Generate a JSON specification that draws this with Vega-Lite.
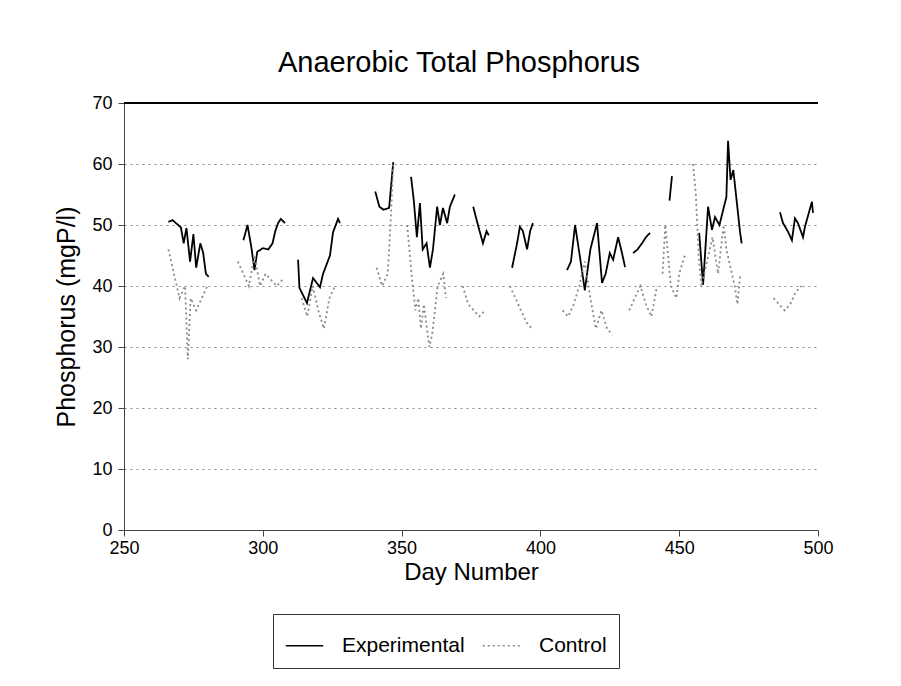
{
  "$schema": "https://vega.github.io/schema/vega-lite/v6.json",
  "width": 694,
  "height": 427,
  "autosize": {"type": "none"},
  "padding": {"left": 124, "top": 103, "right": 83, "bottom": 156},
  "background": "white",
  "config": {"view": {"stroke": null}, "font": "Liberation Sans"},
  "title": {"text": "Anaerobic Total Phosphorus", "fontSize": 29, "fontWeight": "normal", "font": "Liberation Sans", "color": "black", "offset": 16, "anchor": "middle", "dx": -12},
  "layer": [
    {
      "data": {"values": [{"d": 1}]},
      "mark": {"type": "rule", "color": "black", "strokeWidth": 2},
      "encoding": {"y": {"datum": 70}}
    },
    {
      "data": {"values": [
        {"day": 266, "value": 50.5, "series": "Experimental", "seg": "e1"},
        {"day": 267.5, "value": 50.8, "series": "Experimental", "seg": "e1"},
        {"day": 269, "value": 50.2, "series": "Experimental", "seg": "e1"},
        {"day": 270.5, "value": 49.6, "series": "Experimental", "seg": "e1"},
        {"day": 271.5, "value": 47, "series": "Experimental", "seg": "e1"},
        {"day": 272.5, "value": 49.5, "series": "Experimental", "seg": "e1"},
        {"day": 273.8, "value": 44, "series": "Experimental", "seg": "e1"},
        {"day": 275, "value": 48.5, "series": "Experimental", "seg": "e1"},
        {"day": 276, "value": 43, "series": "Experimental", "seg": "e1"},
        {"day": 277.5, "value": 47, "series": "Experimental", "seg": "e1"},
        {"day": 278.5, "value": 45.5, "series": "Experimental", "seg": "e1"},
        {"day": 279.5, "value": 42, "series": "Experimental", "seg": "e1"},
        {"day": 280.5, "value": 41.5, "series": "Experimental", "seg": "e1"},
        {"day": 293, "value": 47.5, "series": "Experimental", "seg": "e2"},
        {"day": 294.5, "value": 50, "series": "Experimental", "seg": "e2"},
        {"day": 296, "value": 46, "series": "Experimental", "seg": "e2"},
        {"day": 297, "value": 42.6, "series": "Experimental", "seg": "e2"},
        {"day": 298, "value": 45.6, "series": "Experimental", "seg": "e2"},
        {"day": 300, "value": 46.2, "series": "Experimental", "seg": "e2"},
        {"day": 302, "value": 46, "series": "Experimental", "seg": "e2"},
        {"day": 303.5, "value": 47, "series": "Experimental", "seg": "e2"},
        {"day": 304.5, "value": 49, "series": "Experimental", "seg": "e2"},
        {"day": 305.5, "value": 50.3, "series": "Experimental", "seg": "e2"},
        {"day": 306.5, "value": 51, "series": "Experimental", "seg": "e2"},
        {"day": 308, "value": 50.3, "series": "Experimental", "seg": "e2"},
        {"day": 312.7, "value": 44.3, "series": "Experimental", "seg": "e3"},
        {"day": 313.2, "value": 39.7, "series": "Experimental", "seg": "e3"},
        {"day": 315.9, "value": 37.2, "series": "Experimental", "seg": "e3"},
        {"day": 318.1, "value": 41.3, "series": "Experimental", "seg": "e3"},
        {"day": 320.6, "value": 39.8, "series": "Experimental", "seg": "e3"},
        {"day": 321.7, "value": 42, "series": "Experimental", "seg": "e3"},
        {"day": 324.2, "value": 45, "series": "Experimental", "seg": "e3"},
        {"day": 325.3, "value": 48.8, "series": "Experimental", "seg": "e3"},
        {"day": 327.1, "value": 51, "series": "Experimental", "seg": "e3"},
        {"day": 327.8, "value": 50.3, "series": "Experimental", "seg": "e3"},
        {"day": 340.5, "value": 55.5, "series": "Experimental", "seg": "e4"},
        {"day": 342, "value": 53, "series": "Experimental", "seg": "e4"},
        {"day": 343.5, "value": 52.5, "series": "Experimental", "seg": "e4"},
        {"day": 345.5, "value": 52.8, "series": "Experimental", "seg": "e4"},
        {"day": 347, "value": 60.3, "series": "Experimental", "seg": "e4"},
        {"day": 353.4, "value": 57.9, "series": "Experimental", "seg": "e5"},
        {"day": 354.4, "value": 54, "series": "Experimental", "seg": "e5"},
        {"day": 355.5, "value": 48, "series": "Experimental", "seg": "e5"},
        {"day": 356.6, "value": 53.6, "series": "Experimental", "seg": "e5"},
        {"day": 357.6, "value": 46, "series": "Experimental", "seg": "e5"},
        {"day": 359, "value": 47, "series": "Experimental", "seg": "e5"},
        {"day": 360.2, "value": 43, "series": "Experimental", "seg": "e5"},
        {"day": 361.3, "value": 46, "series": "Experimental", "seg": "e5"},
        {"day": 362.8, "value": 53, "series": "Experimental", "seg": "e5"},
        {"day": 363.8, "value": 50, "series": "Experimental", "seg": "e5"},
        {"day": 364.9, "value": 52.8, "series": "Experimental", "seg": "e5"},
        {"day": 366.4, "value": 50.3, "series": "Experimental", "seg": "e5"},
        {"day": 367.4, "value": 53, "series": "Experimental", "seg": "e5"},
        {"day": 369.2, "value": 55, "series": "Experimental", "seg": "e5"},
        {"day": 375.8, "value": 53, "series": "Experimental", "seg": "e6"},
        {"day": 377.5, "value": 50, "series": "Experimental", "seg": "e6"},
        {"day": 379.3, "value": 47, "series": "Experimental", "seg": "e6"},
        {"day": 380.6, "value": 49, "series": "Experimental", "seg": "e6"},
        {"day": 381.4, "value": 48.3, "series": "Experimental", "seg": "e6"},
        {"day": 389.8, "value": 43, "series": "Experimental", "seg": "e7"},
        {"day": 391.6, "value": 47, "series": "Experimental", "seg": "e7"},
        {"day": 392.6, "value": 49.7, "series": "Experimental", "seg": "e7"},
        {"day": 393.7, "value": 49, "series": "Experimental", "seg": "e7"},
        {"day": 395.2, "value": 46, "series": "Experimental", "seg": "e7"},
        {"day": 396.3, "value": 49, "series": "Experimental", "seg": "e7"},
        {"day": 397.3, "value": 50.3, "series": "Experimental", "seg": "e7"},
        {"day": 409.6, "value": 42.6, "series": "Experimental", "seg": "e8"},
        {"day": 411, "value": 44, "series": "Experimental", "seg": "e8"},
        {"day": 412.5, "value": 50, "series": "Experimental", "seg": "e8"},
        {"day": 414.5, "value": 44, "series": "Experimental", "seg": "e8"},
        {"day": 416, "value": 39.3, "series": "Experimental", "seg": "e8"},
        {"day": 418, "value": 46, "series": "Experimental", "seg": "e8"},
        {"day": 420.4, "value": 50.3, "series": "Experimental", "seg": "e8"},
        {"day": 422.2, "value": 40.5, "series": "Experimental", "seg": "e8"},
        {"day": 423.5, "value": 42, "series": "Experimental", "seg": "e8"},
        {"day": 425, "value": 45.4, "series": "Experimental", "seg": "e8"},
        {"day": 426.2, "value": 44.3, "series": "Experimental", "seg": "e8"},
        {"day": 428, "value": 48, "series": "Experimental", "seg": "e8"},
        {"day": 429.4, "value": 45.4, "series": "Experimental", "seg": "e8"},
        {"day": 430.5, "value": 43.1, "series": "Experimental", "seg": "e8"},
        {"day": 433.4, "value": 45.4, "series": "Experimental", "seg": "e9"},
        {"day": 435, "value": 46, "series": "Experimental", "seg": "e9"},
        {"day": 436.6, "value": 47, "series": "Experimental", "seg": "e9"},
        {"day": 438, "value": 48, "series": "Experimental", "seg": "e9"},
        {"day": 439.5, "value": 48.7, "series": "Experimental", "seg": "e9"},
        {"day": 446.5, "value": 54, "series": "Experimental", "seg": "e10"},
        {"day": 447.4, "value": 58, "series": "Experimental", "seg": "e10"},
        {"day": 457.2, "value": 48.7, "series": "Experimental", "seg": "e11"},
        {"day": 458.6, "value": 40.2, "series": "Experimental", "seg": "e11"},
        {"day": 460.4, "value": 53, "series": "Experimental", "seg": "e11"},
        {"day": 461.8, "value": 49.2, "series": "Experimental", "seg": "e11"},
        {"day": 462.9, "value": 51.3, "series": "Experimental", "seg": "e11"},
        {"day": 464.5, "value": 50, "series": "Experimental", "seg": "e11"},
        {"day": 467, "value": 54.6, "series": "Experimental", "seg": "e11"},
        {"day": 467.6, "value": 63.8, "series": "Experimental", "seg": "e11"},
        {"day": 468.5, "value": 57.4, "series": "Experimental", "seg": "e11"},
        {"day": 469.5, "value": 59, "series": "Experimental", "seg": "e11"},
        {"day": 471.9, "value": 48.9, "series": "Experimental", "seg": "e11"},
        {"day": 472.5, "value": 47, "series": "Experimental", "seg": "e11"},
        {"day": 486.3, "value": 52.1, "series": "Experimental", "seg": "e12"},
        {"day": 487.4, "value": 50.3, "series": "Experimental", "seg": "e12"},
        {"day": 489.2, "value": 48.9, "series": "Experimental", "seg": "e12"},
        {"day": 490.6, "value": 47.5, "series": "Experimental", "seg": "e12"},
        {"day": 491.7, "value": 51.1, "series": "Experimental", "seg": "e12"},
        {"day": 492.8, "value": 50.3, "series": "Experimental", "seg": "e12"},
        {"day": 494.6, "value": 48, "series": "Experimental", "seg": "e12"},
        {"day": 495.3, "value": 49.7, "series": "Experimental", "seg": "e12"},
        {"day": 497.8, "value": 53.8, "series": "Experimental", "seg": "e12"},
        {"day": 498.2, "value": 52, "series": "Experimental", "seg": "e12"},
        {"day": 266, "value": 46, "series": "Control", "seg": "c1"},
        {"day": 268, "value": 42, "series": "Control", "seg": "c1"},
        {"day": 270, "value": 38, "series": "Control", "seg": "c1"},
        {"day": 272, "value": 40, "series": "Control", "seg": "c1"},
        {"day": 273, "value": 28, "series": "Control", "seg": "c1"},
        {"day": 274, "value": 38, "series": "Control", "seg": "c1"},
        {"day": 276, "value": 36, "series": "Control", "seg": "c1"},
        {"day": 278, "value": 38, "series": "Control", "seg": "c1"},
        {"day": 280, "value": 40, "series": "Control", "seg": "c1"},
        {"day": 291, "value": 44, "series": "Control", "seg": "c2"},
        {"day": 293, "value": 42, "series": "Control", "seg": "c2"},
        {"day": 295, "value": 40, "series": "Control", "seg": "c2"},
        {"day": 297, "value": 45, "series": "Control", "seg": "c2"},
        {"day": 299, "value": 40, "series": "Control", "seg": "c2"},
        {"day": 301, "value": 42, "series": "Control", "seg": "c2"},
        {"day": 303, "value": 41, "series": "Control", "seg": "c2"},
        {"day": 305, "value": 40, "series": "Control", "seg": "c2"},
        {"day": 307, "value": 41, "series": "Control", "seg": "c2"},
        {"day": 314, "value": 38, "series": "Control", "seg": "c3"},
        {"day": 316, "value": 35, "series": "Control", "seg": "c3"},
        {"day": 318, "value": 40, "series": "Control", "seg": "c3"},
        {"day": 320, "value": 36, "series": "Control", "seg": "c3"},
        {"day": 322, "value": 33, "series": "Control", "seg": "c3"},
        {"day": 324, "value": 38, "series": "Control", "seg": "c3"},
        {"day": 326, "value": 40, "series": "Control", "seg": "c3"},
        {"day": 341, "value": 43, "series": "Control", "seg": "c4"},
        {"day": 343, "value": 40, "series": "Control", "seg": "c4"},
        {"day": 345, "value": 42, "series": "Control", "seg": "c4"},
        {"day": 346, "value": 50, "series": "Control", "seg": "c4"},
        {"day": 347, "value": 60, "series": "Control", "seg": "c4"},
        {"day": 352, "value": 50, "series": "Control", "seg": "c5"},
        {"day": 353, "value": 45, "series": "Control", "seg": "c5"},
        {"day": 354, "value": 40, "series": "Control", "seg": "c5"},
        {"day": 355, "value": 36, "series": "Control", "seg": "c5"},
        {"day": 356, "value": 38, "series": "Control", "seg": "c5"},
        {"day": 357, "value": 33, "series": "Control", "seg": "c5"},
        {"day": 358, "value": 37, "series": "Control", "seg": "c5"},
        {"day": 360, "value": 30, "series": "Control", "seg": "c5"},
        {"day": 361, "value": 32, "series": "Control", "seg": "c5"},
        {"day": 363, "value": 40, "series": "Control", "seg": "c5"},
        {"day": 365, "value": 42, "series": "Control", "seg": "c5"},
        {"day": 366, "value": 38, "series": "Control", "seg": "c5"},
        {"day": 372, "value": 40, "series": "Control", "seg": "c6"},
        {"day": 374, "value": 37, "series": "Control", "seg": "c6"},
        {"day": 376, "value": 36, "series": "Control", "seg": "c6"},
        {"day": 378, "value": 35, "series": "Control", "seg": "c6"},
        {"day": 380, "value": 36, "series": "Control", "seg": "c6"},
        {"day": 389, "value": 40, "series": "Control", "seg": "c7"},
        {"day": 391, "value": 38, "series": "Control", "seg": "c7"},
        {"day": 393, "value": 36, "series": "Control", "seg": "c7"},
        {"day": 395, "value": 34, "series": "Control", "seg": "c7"},
        {"day": 397, "value": 33, "series": "Control", "seg": "c7"},
        {"day": 408, "value": 36, "series": "Control", "seg": "c8"},
        {"day": 410, "value": 35, "series": "Control", "seg": "c8"},
        {"day": 412, "value": 37, "series": "Control", "seg": "c8"},
        {"day": 414, "value": 40, "series": "Control", "seg": "c8"},
        {"day": 416, "value": 44, "series": "Control", "seg": "c8"},
        {"day": 418, "value": 38, "series": "Control", "seg": "c8"},
        {"day": 420, "value": 33, "series": "Control", "seg": "c8"},
        {"day": 422, "value": 36, "series": "Control", "seg": "c8"},
        {"day": 424, "value": 33, "series": "Control", "seg": "c8"},
        {"day": 426, "value": 32, "series": "Control", "seg": "c8"},
        {"day": 432, "value": 36, "series": "Control", "seg": "c9"},
        {"day": 434, "value": 38, "series": "Control", "seg": "c9"},
        {"day": 436, "value": 40, "series": "Control", "seg": "c9"},
        {"day": 438, "value": 37, "series": "Control", "seg": "c9"},
        {"day": 440, "value": 35, "series": "Control", "seg": "c9"},
        {"day": 442, "value": 40, "series": "Control", "seg": "c9"},
        {"day": 444, "value": 42, "series": "Control", "seg": "c10"},
        {"day": 445, "value": 50, "series": "Control", "seg": "c10"},
        {"day": 446, "value": 45, "series": "Control", "seg": "c10"},
        {"day": 447, "value": 40, "series": "Control", "seg": "c10"},
        {"day": 449, "value": 38, "series": "Control", "seg": "c10"},
        {"day": 450, "value": 42, "series": "Control", "seg": "c10"},
        {"day": 452, "value": 45, "series": "Control", "seg": "c10"},
        {"day": 455, "value": 60, "series": "Control", "seg": "c11"},
        {"day": 456, "value": 55, "series": "Control", "seg": "c11"},
        {"day": 457, "value": 45, "series": "Control", "seg": "c11"},
        {"day": 458, "value": 40, "series": "Control", "seg": "c11"},
        {"day": 460, "value": 44, "series": "Control", "seg": "c11"},
        {"day": 462, "value": 48, "series": "Control", "seg": "c11"},
        {"day": 464, "value": 42, "series": "Control", "seg": "c11"},
        {"day": 466, "value": 50, "series": "Control", "seg": "c11"},
        {"day": 467, "value": 46, "series": "Control", "seg": "c11"},
        {"day": 468, "value": 44, "series": "Control", "seg": "c11"},
        {"day": 470, "value": 40, "series": "Control", "seg": "c11"},
        {"day": 471, "value": 37, "series": "Control", "seg": "c11"},
        {"day": 472, "value": 42, "series": "Control", "seg": "c11"},
        {"day": 484, "value": 38, "series": "Control", "seg": "c12"},
        {"day": 486, "value": 37, "series": "Control", "seg": "c12"},
        {"day": 488, "value": 36, "series": "Control", "seg": "c12"},
        {"day": 490, "value": 37, "series": "Control", "seg": "c12"},
        {"day": 492, "value": 39, "series": "Control", "seg": "c12"},
        {"day": 494, "value": 40, "series": "Control", "seg": "c12"}
      ]},
      "mark": {"type": "line", "strokeWidth": 1.8},
      "encoding": {
        "x": {"field": "day", "type": "quantitative",
          "scale": {"domain": [250, 500], "nice": false, "zero": false},
          "axis": {"title": "Day Number", "values": [250, 300, 350, 400, 450, 500], "grid": false, "labelFlush": false,
            "labelFontSize": 18, "titleFontSize": 24, "titleFontWeight": "normal", "labelColor": "black", "titleColor": "black",
            "domainColor": "#444", "tickColor": "#444", "tickSize": 6, "labelPadding": 3, "titlePadding": 3, "labelFont": "Liberation Sans", "titleFont": "Liberation Sans"}},
        "y": {"field": "value", "type": "quantitative",
          "scale": {"domain": [0, 70], "nice": false},
          "axis": {"title": "Phosphorus (mgP/l)", "values": [0, 10, 20, 30, 40, 50, 60, 70], "grid": true, "gridDash": [2, 4], "gridColor": "#888",
            "labelFontSize": 18, "titleFontSize": 25, "titleFontWeight": "normal", "labelColor": "black", "titleColor": "black",
            "domainColor": "#444", "tickColor": "#444", "tickSize": 6, "labelPadding": 6, "titlePadding": 12, "labelFont": "Liberation Sans", "titleFont": "Liberation Sans"}},
        "color": {"field": "series", "type": "nominal",
          "scale": {"domain": ["Experimental", "Control"], "range": ["black", "#8a8a8a"]},
          "legend": {"title": null, "orient": "none", "legendX": 149, "legendY": 511, "direction": "horizontal", "strokeColor": "#333", "fillColor": "white",
            "padding": 12, "symbolType": "stroke", "symbolSize": 1400, "symbolStrokeWidth": 1.5, "labelFontSize": 21, "labelColor": "black",
            "columnPadding": 14, "labelOffset": 18, "labelFont": "Liberation Sans"}},
        "strokeDash": {"field": "series", "type": "nominal",
          "scale": {"domain": ["Experimental", "Control"], "range": [[1, 0], [2, 3]]},
          "legend": {"title": null, "orient": "none", "legendX": 149, "legendY": 511, "direction": "horizontal", "strokeColor": "#333", "fillColor": "white",
            "padding": 12, "symbolType": "stroke", "symbolSize": 1400, "symbolStrokeWidth": 1.5, "labelFontSize": 21, "labelColor": "black",
            "columnPadding": 14, "labelOffset": 18, "labelFont": "Liberation Sans"}},
        "detail": {"field": "seg", "type": "nominal"}
      }
    }
  ]
}
